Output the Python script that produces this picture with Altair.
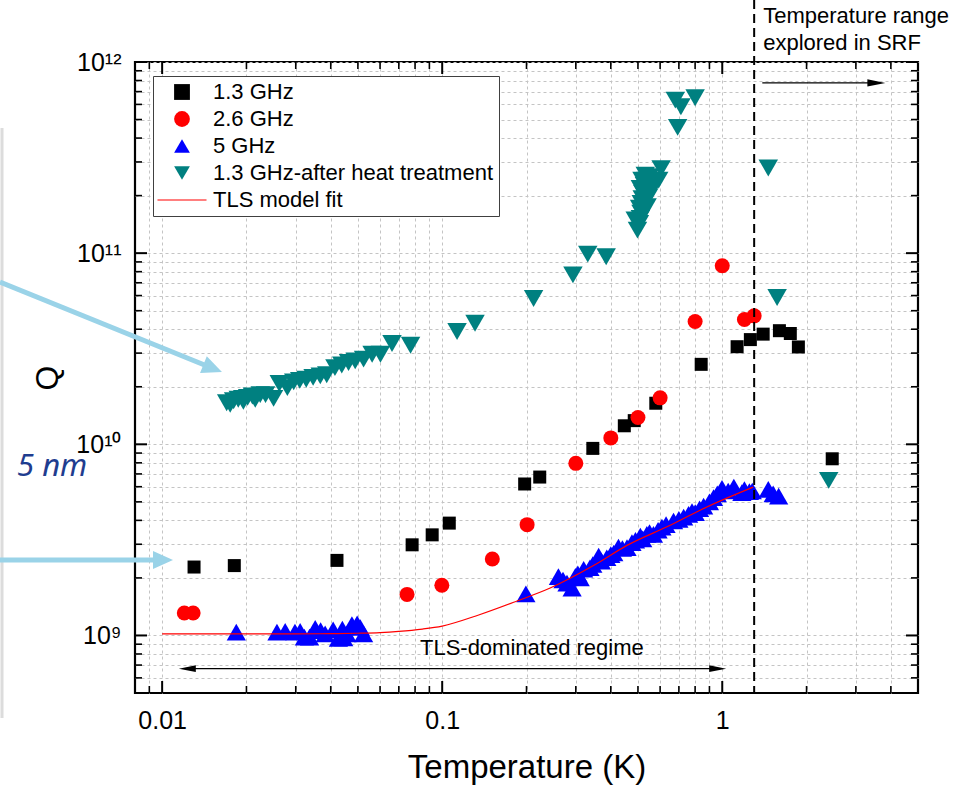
import altair as alt
import pandas as pd

# ---------------- data ----------------
T_13 = [0.013, 0.0181, 0.0421, 0.0781, 0.0921, 0.106, 0.197, 0.223, 0.345, 0.447,
        0.485, 0.579, 0.841, 1.13, 1.26, 1.40, 1.60, 1.75, 1.87, 2.47]
Q_13 = [2.28e9, 2.32e9, 2.47e9, 2.98e9, 3.36e9, 3.87e9, 6.2e9, 6.74e9, 9.52e9, 1.25e10,
        1.33e10, 1.64e10, 2.62e10, 3.24e10, 3.53e10, 3.77e10, 3.93e10, 3.8e10, 3.23e10, 8.4e9]

T_26 = [0.0120, 0.0129, 0.0749, 0.0997, 0.151, 0.201, 0.300, 0.400, 0.500, 0.600,
        0.800, 1.00, 1.20, 1.30]
Q_26 = [1.31e9, 1.31e9, 1.64e9, 1.83e9, 2.51e9, 3.8e9, 7.95e9, 1.08e10, 1.38e10, 1.75e10,
        4.39e10, 8.59e10, 4.5e10, 4.7e10]

T_5 = [0.0184, 0.0257, 0.0275, 0.0298, 0.0311, 0.0322, 0.0336, 0.0352, 0.0368, 0.0382,
       0.0408, 0.0426, 0.044, 0.0445, 0.0457, 0.0476, 0.0497, 0.051, 0.0524,
       0.199, 0.260, 0.270, 0.279, 0.291, 0.299, 0.305, 0.311, 0.320, 0.337, 0.345,
       0.362, 0.370, 0.387, 0.400, 0.41, 0.426, 0.44, 0.457, 0.476, 0.49,
       0.51, 0.52, 0.538, 0.55, 0.568, 0.59, 0.609, 0.63, 0.67, 0.70,
       0.728, 0.758, 0.78, 0.801, 0.83, 0.858, 0.90, 0.931, 0.96, 0.998,
       1.05, 1.10, 1.175, 1.20, 1.25, 1.28, 1.46, 1.52, 1.59]
Q_5 = [1.04e9, 1.04e9, 1.05e9, 1.04e9, 1.05e9, 0.98e9, 0.98e9, 1.09e9, 1.06e9, 1.02e9,
       1.07e9, 0.965e9, 1.08e9, 0.97e9, 1.02e9, 1.14e9, 1.15e9, 1.1e9, 1.02e9,
       1.65e9, 2.03e9, 1.95e9, 1.88e9, 1.77e9, 2.04e9, 2.1e9, 2.0e9, 2.22e9, 2.26e9, 2.35e9,
       2.6e9, 2.45e9, 2.55e9, 2.65e9, 2.7e9, 2.9e9, 2.85e9, 2.88e9, 3.06e9, 3.15e9,
       3.31e9, 3.2e9, 3.38e9, 3.45e9, 3.38e9, 3.55e9, 3.69e9, 3.8e9, 3.97e9, 4.05e9,
       4.16e9, 4.3e9, 4.45e9, 4.39e9, 4.6e9, 4.75e9, 5.0e9, 5.26e9, 5.5e9, 5.89e9,
       5.7e9, 5.98e9, 5.59e9, 5.8e9, 5.65e9, 5.7e9, 5.81e9, 5.5e9, 5.36e9]

T_ht = [0.017, 0.0175, 0.018, 0.0187, 0.0194, 0.0195, 0.0202, 0.021, 0.0215, 0.0224,
        0.0234, 0.025, 0.0262, 0.028, 0.0295, 0.031, 0.0327, 0.0346, 0.0367, 0.0387,
        0.0414, 0.0438, 0.0463, 0.0489, 0.0524, 0.0562, 0.0602, 0.0662, 0.0771,
        0.113, 0.131, 0.212, 0.293, 0.331, 0.385,
        0.498, 0.506, 0.51, 0.513, 0.507, 0.514, 0.518, 0.521, 0.51, 0.527,
        0.535, 0.517, 0.551, 0.531, 0.568, 0.593, 0.605, 0.489, 0.539, 0.546,
        0.68, 0.712, 0.693, 0.80, 1.46, 1.57, 2.40]
Q_ht = [1.65e10, 1.62e10, 1.69e10, 1.72e10, 1.74e10, 1.68e10, 1.76e10, 1.79e10, 1.72e10, 1.82e10,
        1.82e10, 1.74e10, 2.08e10, 1.98e10, 2.12e10, 2.16e10, 2.19e10, 2.24e10, 2.28e10, 2.31e10,
        2.52e10, 2.6e10, 2.68e10, 2.73e10, 2.79e10, 2.96e10, 2.96e10, 3.37e10, 3.3e10,
        3.89e10, 4.3e10, 5.79e10, 7.7e10, 9.88e10, 9.57e10,
        1.32e11, 1.43e11, 1.52e11, 1.62e11, 1.72e11, 1.82e11, 1.93e11, 2.05e11, 2.18e11, 2.27e11,
        2.41e11, 2.41e11, 2.51e11, 2.56e11, 2.22e11, 2.41e11, 2.77e11, 1.49e11, 1.75e11, 1.97e11,
        6.32e11, 5.83e11, 4.55e11, 6.5e11, 2.79e11, 5.86e10, 6.48e9]

T_fit = [0.01, 0.02, 0.03, 0.04, 0.05, 0.06, 0.07, 0.085, 0.1, 0.135, 0.184, 0.243,
         0.347, 0.457, 0.652, 0.881, 1.29]
Q_fit = [1.02e9, 1.02e9, 1.02e9, 1.022e9, 1.027e9, 1.035e9, 1.05e9, 1.08e9, 1.12e9, 1.28e9,
         1.51e9, 1.77e9, 2.32e9, 2.96e9, 3.77e9, 4.7e9, 5.97e9]

SERIES = ["1.3 GHz", "2.6 GHz", "5 GHz", "1.3 GHz-after heat treatment", "TLS model fit"]
COLORS = ["#000000", "#ff0000", "#0000ff", "#008080", "#ff0000"]
SHAPES = ["square", "circle", "triangle-up", "triangle-down",
          "M-3.1,-0.07L3.1,-0.07L3.1,0.07L-3.1,0.07Z"]
SIZES = [169, 225, 370, 380]

X_MAJOR = [0.01, 0.1, 1]
X_MINOR = [0.009, 0.02, 0.03, 0.04, 0.05, 0.06, 0.07, 0.08, 0.09,
           0.2, 0.3, 0.4, 0.5, 0.6, 0.7, 0.8, 0.9, 2, 3, 4]
Y_MAJOR = [1e9, 1e10, 1e11, 1e12]
Y_MINOR = [6e8, 7e8, 8e8, 9e8] + [m * 10 ** e for e in (9, 10, 11) for m in range(2, 10)]

T_SRF = 1.3

# ---------------- layout ----------------
W, H = 783, 631
FONT = "Liberation Sans"

xs = alt.Scale(type="log", domain=[0.008, 5], nice=False)
ys = alt.Scale(type="log", domain=[5e8, 1e12], nice=False)

xaxis = alt.Axis(
    values=sorted(X_MAJOR + X_MINOR),
    labelExpr="datum.value == 0.01 ? '0.01' : datum.value == 0.1 ? '0.1' : datum.value == 1 ? '1' : ''",
    grid=True, gridColor="#c4c4c4", gridDash=[3, 3], gridWidth=1,
    ticks=False, tickSize=0, domain=False,
    labelFont=FONT, labelFontSize=25, labelColor="black", labelPadding=15,
    labelFlush=False, labelOverlap=False,
    title="Temperature (K)", titleFont=FONT, titleFontSize=33, titleFontWeight="normal",
    titleColor="black", titleX=W / 2, titleY=84, titleBaseline="alphabetic", titleAlign="center",
)
yaxis = alt.Axis(
    values=sorted(Y_MAJOR + Y_MINOR),
    labelExpr="datum.value == 1e9 ? '10\u2079' : datum.value == 1e10 ? '10\u00b9\u2070' : "
              "datum.value == 1e11 ? '10\u00b9\u00b9' : datum.value == 1e12 ? '10\u00b9\u00b2' : ''",
    grid=True, gridColor="#c4c4c4", gridDash=[3, 3], gridWidth=1,
    ticks=False, tickSize=0, domain=False,
    labelFont=FONT, labelFontSize=25, labelColor="black", labelPadding=14,
    labelFlush=False, labelOverlap=False,
    title="Q", titleFont=FONT, titleFontSize=32, titleFontWeight="normal", titleColor="black",
    titleX=-78, titleY=H / 2, titleAngle=270, titleBaseline="alphabetic", titleAlign="center",
)


def X():
    return alt.X("T:Q", scale=xs, axis=xaxis)


def Y():
    return alt.Y("Q:Q", scale=ys, axis=yaxis)


legend = alt.Legend(
    title=None, orient="none", legendX=18, legendY=14, padding=5,
    symbolOffset=13, labelOffset=20, rowPadding=5,
    labelFont=FONT, labelFontSize=22, labelColor="black", labelLimit=500,
    symbolSize=250, symbolStrokeWidth=0, symbolOpacity=1,
    strokeColor="#404040", fillColor="white",
)

point_layers = []
for name, T, Q, sz in [(SERIES[0], T_13, Q_13, SIZES[0]), (SERIES[1], T_26, Q_26, SIZES[1]),
                       (SERIES[2], T_5, Q_5, SIZES[2]), (SERIES[3], T_ht, Q_ht, SIZES[3])]:
    df = pd.DataFrame({"T": T, "Q": Q, "series": name})
    point_layers.append(
        alt.Chart(df).mark_point(filled=True, opacity=1, strokeWidth=0, size=sz).encode(
            x=X(), y=Y(),
            color=alt.Color("series:N", scale=alt.Scale(domain=SERIES, range=COLORS), legend=legend),
            shape=alt.Shape("series:N", scale=alt.Scale(domain=SERIES, range=SHAPES), legend=legend),
        )
    )

fit = alt.Chart(pd.DataFrame({"T": T_fit, "Q": Q_fit})).mark_line(
    color="#ff0000", strokeWidth=1.2, interpolate="monotone"
).encode(x=X(), y=Y())

# inward ticks on all four sides
tick_layers = []
for vals, ln, sw in [(X_MAJOR, 12, 2), (X_MINOR, 7, 1.6)]:
    d = pd.DataFrame({"T": vals})
    tick_layers.append(alt.Chart(d).mark_rule(color="black", strokeWidth=sw).encode(
        x=X(), y=alt.value(H), y2=alt.value(H - ln)))
    tick_layers.append(alt.Chart(d).mark_rule(color="black", strokeWidth=sw).encode(
        x=X(), y=alt.value(0), y2=alt.value(ln)))
for vals, ln, sw in [(Y_MAJOR, 12, 2), (Y_MINOR, 7, 1.6)]:
    d = pd.DataFrame({"Q": vals})
    tick_layers.append(alt.Chart(d).mark_rule(color="black", strokeWidth=sw).encode(
        y=Y(), x=alt.value(0), x2=alt.value(ln)))
    tick_layers.append(alt.Chart(d).mark_rule(color="black", strokeWidth=sw).encode(
        y=Y(), x=alt.value(W), x2=alt.value(W - ln)))

# SRF boundary
srf = alt.Chart(pd.DataFrame({"T": [T_SRF]})).mark_rule(
    color="black", strokeWidth=2, strokeDash=[9, 5]
).encode(x=X(), y=alt.value(-62), y2=alt.value(H))

srf_text = alt.Chart(pd.DataFrame({"T": [1.4]})).mark_text(
    text="Temperature range\nexplored in SRF", lineBreak="\n", lineHeight=27,
    align="left", baseline="alphabetic", font=FONT, fontSize=22, color="black"
).encode(x=X(), y=alt.value(-39))

ARROW_R = "M-1,-0.4L1,0L-1,0.4Z"
srf_arrow_line = alt.Chart(pd.DataFrame({"T": [1.39], "T2": [3.55], "Q": [7.77e11]})).mark_rule(
    color="black", strokeWidth=1.2).encode(x=X(), x2="T2:Q", y=Y())
srf_arrow_head = alt.Chart(pd.DataFrame({"T": [3.55], "Q": [7.77e11]})).mark_point(
    shape=ARROW_R, filled=True, color="black", opacity=1, size=324).encode(x=X(), y=Y())

tls_line = alt.Chart(pd.DataFrame({"T": [0.0123], "T2": [0.963], "Q": [6.7e8]})).mark_rule(
    color="black", strokeWidth=1.2).encode(x=X(), x2="T2:Q", y=Y())
tls_head_r = alt.Chart(pd.DataFrame({"T": [0.963], "Q": [6.7e8]})).mark_point(
    shape=ARROW_R, filled=True, color="black", opacity=1, size=289).encode(x=X(), y=Y())
tls_head_l = alt.Chart(pd.DataFrame({"T": [0.0123], "Q": [6.7e8]})).mark_point(
    shape=ARROW_R, angle=180, filled=True, color="black", opacity=1, size=289).encode(x=X(), y=Y())
tls_text = alt.Chart(pd.DataFrame({"T": [0.209], "Q": [7.95e8]})).mark_text(
    text="TLS-dominated regime", align="center", baseline="alphabetic",
    font=FONT, fontSize=22, color="black").encode(x=X(), y=Y())

# slide decorations on the left (outside the plot)
one = pd.DataFrame({"k": [0]})
BLUE = "#9ad3e8"
panel_edge = alt.Chart(one).mark_rule(color="#dcdcdc", strokeWidth=3).encode(
    x=alt.value(-133), y=alt.value(66), y2=alt.value(656))
arrow1_line = alt.Chart(one).mark_rule(color=BLUE, strokeWidth=5).encode(
    x=alt.value(-135), y=alt.value(220), x2=alt.value(72), y2=alt.value(304))
arrow1_head = alt.Chart(one).mark_point(
    shape="M-1,-0.9L1,0L-1,0.9Z", angle=22, filled=True, color=BLUE, opacity=1, size=400
).encode(x=alt.value(77.7), y=alt.value(306.3))
arrow2_line = alt.Chart(one).mark_rule(color=BLUE, strokeWidth=5).encode(
    x=alt.value(-135), x2=alt.value(22), y=alt.value(498))
arrow2_head = alt.Chart(one).mark_point(
    shape="M-1,-0.9L1,0L-1,0.9Z", filled=True, color=BLUE, opacity=1, size=400
).encode(x=alt.value(28), y=alt.value(498))
nm_text = alt.Chart(one).mark_text(
    text="5 nm", align="left", baseline="alphabetic", font="Noto Sans", fontSize=31,
    fontStyle="italic", color="#1f3d8f"
).encode(x=alt.value(-118), y=alt.value(414))

chart = alt.layer(
    *tick_layers, *point_layers, fit, srf, srf_text, srf_arrow_line, srf_arrow_head,
    tls_line, tls_head_r, tls_head_l, tls_text,
    panel_edge, arrow1_line, arrow1_head, arrow2_line, arrow2_head, nm_text,
).properties(
    width=W, height=H,
    autosize=alt.AutoSizeParams(type="none"),
    padding={"left": 135, "top": 62, "right": 43, "bottom": 94},
    background="white",
).configure_view(stroke="black", strokeWidth=2.2)

chart.save("out.html", embed_options={"renderer": "svg", "actions": False})
